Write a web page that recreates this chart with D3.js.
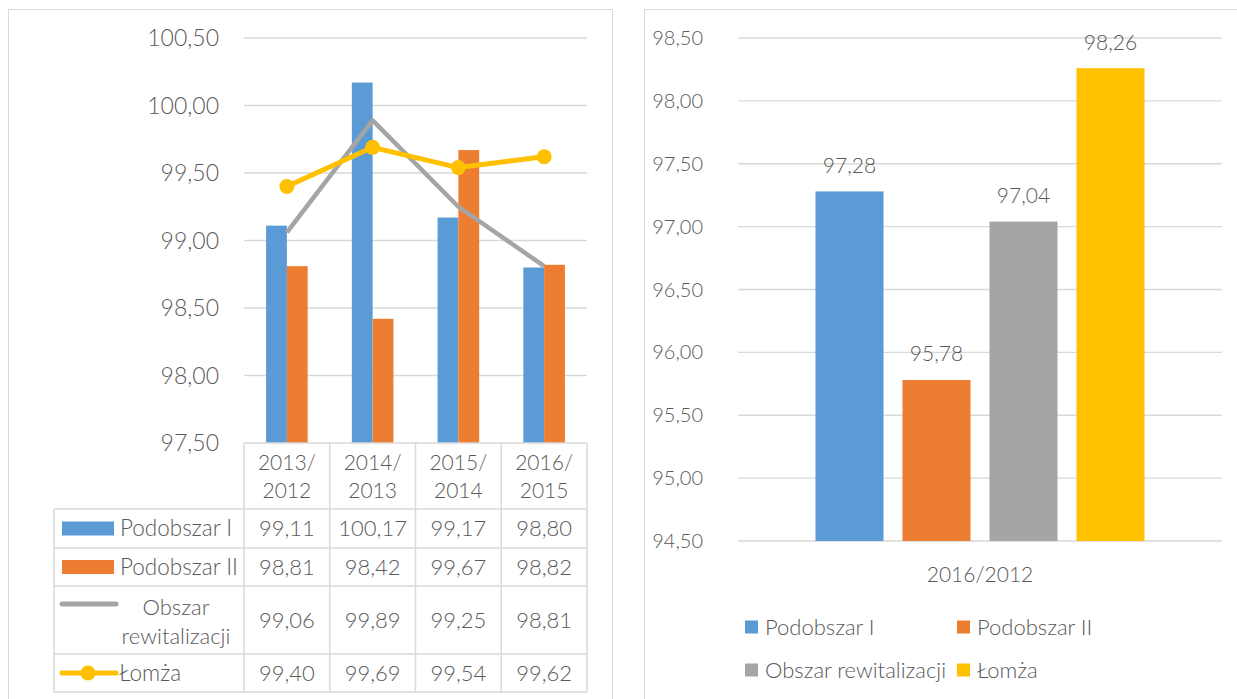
<!DOCTYPE html>
<html>
<head>
<meta charset="utf-8">
<script src="https://cdn.jsdelivr.net/npm/d3@7"></script>
<style>
  body { margin: 0; background: #fff; }
  svg { display: block; font-family: Lato, "Open Sans", sans-serif; font-weight: 300; }
</style>
</head>
<body>
<div id="chart"></div>
<script>
// Data for the left chart (yearly indices)
const periods = [["2013/", "2012"], ["2014/", "2013"], ["2015/", "2014"], ["2016/", "2015"]];
const podobszar1 = [99.11, 100.17, 99.17, 98.80];
const podobszar2 = [98.81, 98.42, 99.67, 98.82];
const obszarRew = [99.06, 99.89, 99.25, 98.81];
const lomza = [99.40, 99.69, 99.54, 99.62];
const leftTicks = [97.5, 98.0, 98.5, 99.0, 99.5, 100.0, 100.5];

// Data for the right chart (2016/2012)
const totalCategory = "2016/2012";
const seriesNames = ["Podobszar I", "Podobszar II", "Obszar rewitalizacji", "Łomża"];
const totalValues = [97.28, 95.78, 97.04, 98.26];
const rightTicks = [94.5, 95.0, 95.5, 96.0, 96.5, 97.0, 97.5, 98.0, 98.5];

const colors = ["#5B9BD5", "#ED7D31", "#A5A5A5", "#FFC000"];
const textColor = "#595959";
const gridColor = "#D9D9D9";
const fmt = v => d3.format(".2f")(v).replace(".", ",");

const svg = d3.select("#chart").append("svg")
    .attr("width", 1237)
    .attr("height", 699);

// Chart frames
svg.append("rect").attr("x", 8.5).attr("y", 9.5).attr("width", 604).attr("height", 700)
    .attr("fill", "none").attr("stroke", gridColor);
svg.append("rect").attr("x", 644.5).attr("y", 9.5).attr("width", 610).attr("height", 700)
    .attr("fill", "none").attr("stroke", gridColor);

// ---------- Left chart ----------
const yL = d3.scaleLinear().domain([97.5, 100.5]).range([443, 38]);
const xL = d3.scaleBand().domain(d3.range(periods.length)).range([244, 587])
    .paddingInner(0.515).paddingOuter(0.2575);
const colL = d3.scaleBand().domain(d3.range(periods.length)).range([244, 587]);
const subL = d3.scaleBand().domain([0, 1]).range([0, xL.bandwidth()]);

const left = svg.append("g");

left.append("g").selectAll("line").data(leftTicks.slice(1)).join("line")
    .attr("x1", 244).attr("x2", 587)
    .attr("y1", d => yL(d)).attr("y2", d => yL(d))
    .attr("stroke", gridColor).attr("stroke-width", 1.3);

left.append("g").selectAll("text").data(leftTicks).join("text")
    .attr("x", 219).attr("y", d => yL(d)).attr("dy", "0.35em")
    .attr("text-anchor", "end").attr("fill", textColor).attr("font-size", 23)
    .text(fmt);

const barSeries = [podobszar1, podobszar2];
barSeries.forEach((vals, s) => {
    left.append("g").selectAll("rect").data(vals).join("rect")
        .attr("x", (d, i) => xL(i) + subL(s))
        .attr("y", d => yL(d))
        .attr("width", subL.bandwidth())
        .attr("height", d => yL(97.5) - yL(d))
        .attr("fill", colors[s]);
});

const lineL = d3.line().x((d, i) => colL(i) + colL.bandwidth() / 2).y(d => yL(d));
left.append("path").datum(obszarRew).attr("d", lineL)
    .attr("fill", "none").attr("stroke", colors[2]).attr("stroke-width", 4.5)
    .attr("stroke-linejoin", "round");
left.append("path").datum(lomza).attr("d", lineL)
    .attr("fill", "none").attr("stroke", colors[3]).attr("stroke-width", 5)
    .attr("stroke-linejoin", "round");
left.append("g").selectAll("circle").data(lomza).join("circle")
    .attr("cx", (d, i) => colL(i) + colL.bandwidth() / 2)
    .attr("cy", d => yL(d)).attr("r", 7.5).attr("fill", colors[3]);

// Data table under the left chart
const rowsY = [443, 509, 548, 586, 654, 692];
const tableLeft = 54;
const table = left.append("g").attr("stroke", gridColor).attr("stroke-width", 1.5);
table.append("line").attr("x1", 244).attr("x2", 587).attr("y1", rowsY[0]).attr("y2", rowsY[0]);
rowsY.slice(1).forEach(y => {
    table.append("line").attr("x1", tableLeft).attr("x2", 587).attr("y1", y).attr("y2", y);
});
d3.range(periods.length + 1).forEach(i => {
    const x = i < periods.length ? colL(i) : 587;
    table.append("line").attr("x1", x).attr("x2", x).attr("y1", rowsY[0]).attr("y2", rowsY[5]);
});
table.append("line").attr("x1", tableLeft).attr("x2", tableLeft).attr("y1", rowsY[1]).attr("y2", rowsY[5]);

const headers = left.append("g").attr("fill", textColor).attr("font-size", 21).attr("text-anchor", "middle");
periods.forEach((p, i) => {
    const cx = colL(i) + colL.bandwidth() / 2;
    headers.append("text").attr("x", cx).attr("y", 463).attr("dy", "0.35em").text(p[0]);
    headers.append("text").attr("x", cx).attr("y", 491).attr("dy", "0.35em").text(p[1]);
});

const tableSeries = [podobszar1, podobszar2, obszarRew, lomza];
tableSeries.forEach((vals, r) => {
    const cy = (rowsY[r + 1] + rowsY[r + 2]) / 2;
    left.append("g").selectAll("text").data(vals).join("text")
        .attr("x", (d, i) => colL(i) + colL.bandwidth() / 2)
        .attr("y", cy).attr("dy", "0.35em")
        .attr("text-anchor", "middle").attr("fill", textColor).attr("font-size", 22)
        .text(fmt);
});

// Legend keys in the table
const keyX0 = 62, keyX1 = 114;
[0, 1].forEach(r => {
    const cy = (rowsY[r + 1] + rowsY[r + 2]) / 2;
    left.append("rect").attr("x", keyX0).attr("y", cy - 7).attr("width", keyX1 - keyX0).attr("height", 14)
        .attr("fill", colors[r]);
    left.append("text").attr("x", 120).attr("y", cy).attr("dy", "0.35em")
        .attr("fill", textColor).attr("font-size", 22.5).text(seriesNames[r]);
});
const gY = 604;
left.append("line").attr("x1", keyX0).attr("x2", 116).attr("y1", gY).attr("y2", gY)
    .attr("stroke", colors[2]).attr("stroke-width", 5).attr("stroke-linecap", "round");
left.append("text").attr("x", 176).attr("y", 607).attr("dy", "0.35em").attr("text-anchor", "middle")
    .attr("fill", textColor).attr("font-size", 22).text("Obszar");
left.append("text").attr("x", 176).attr("y", 636).attr("dy", "0.35em").attr("text-anchor", "middle")
    .attr("fill", textColor).attr("font-size", 22).text("rewitalizacji");
const lY = (rowsY[4] + rowsY[5]) / 2;
left.append("line").attr("x1", keyX0).attr("x2", 116).attr("y1", lY).attr("y2", lY)
    .attr("stroke", colors[3]).attr("stroke-width", 5).attr("stroke-linecap", "round");
left.append("circle").attr("cx", 88).attr("cy", lY).attr("r", 7.5).attr("fill", colors[3]);
left.append("text").attr("x", 119).attr("y", lY).attr("dy", "0.35em")
    .attr("fill", textColor).attr("font-size", 22.5).text(seriesNames[3]);

// ---------- Right chart ----------
const yR = d3.scaleLinear().domain([94.5, 98.5]).range([541, 38]);
const xR = d3.scaleBand().domain([totalCategory]).range([738, 1222]);
const subR = d3.scaleBand().domain(seriesNames)
    .range([xR(totalCategory) + xR.bandwidth() / 2 - 174, xR(totalCategory) + xR.bandwidth() / 2 + 174])
    .paddingInner(0.218).paddingOuter(0.109);

const right = svg.append("g");
right.append("g").selectAll("line").data(rightTicks).join("line")
    .attr("x1", 738).attr("x2", 1222)
    .attr("y1", d => yR(d)).attr("y2", d => yR(d))
    .attr("stroke", gridColor).attr("stroke-width", 1.3);
right.append("g").selectAll("text").data(rightTicks).join("text")
    .attr("x", 703).attr("y", d => yR(d)).attr("dy", "0.35em")
    .attr("text-anchor", "end").attr("fill", textColor).attr("font-size", 20)
    .text(fmt);

right.append("g").selectAll("rect").data(totalValues).join("rect")
    .attr("x", (d, i) => subR(seriesNames[i]))
    .attr("y", d => yR(d))
    .attr("width", subR.bandwidth())
    .attr("height", d => yR(94.5) - yR(d))
    .attr("fill", (d, i) => colors[i]);
right.append("g").selectAll("text").data(totalValues).join("text")
    .attr("x", (d, i) => subR(seriesNames[i]) + subR.bandwidth() / 2)
    .attr("y", d => yR(d) - 26).attr("dy", "0.35em")
    .attr("text-anchor", "middle").attr("fill", textColor).attr("font-size", 21)
    .text(fmt);

right.append("text").attr("x", xR(totalCategory) + xR.bandwidth() / 2).attr("y", 575).attr("dy", "0.35em")
    .attr("text-anchor", "middle").attr("fill", textColor).attr("font-size", 21).text(totalCategory);

const legendPos = [[745, 627], [957, 627], [745, 670], [957, 670]];
seriesNames.forEach((name, i) => {
    const [lx, ly] = legendPos[i];
    right.append("rect").attr("x", lx).attr("y", ly - 6.5).attr("width", 13).attr("height", 13).attr("fill", colors[i]);
    right.append("text").attr("x", lx + 20).attr("y", ly).attr("dy", "0.35em")
        .attr("fill", textColor).attr("font-size", 22).text(name);
});
</script>
</body>
</html>
